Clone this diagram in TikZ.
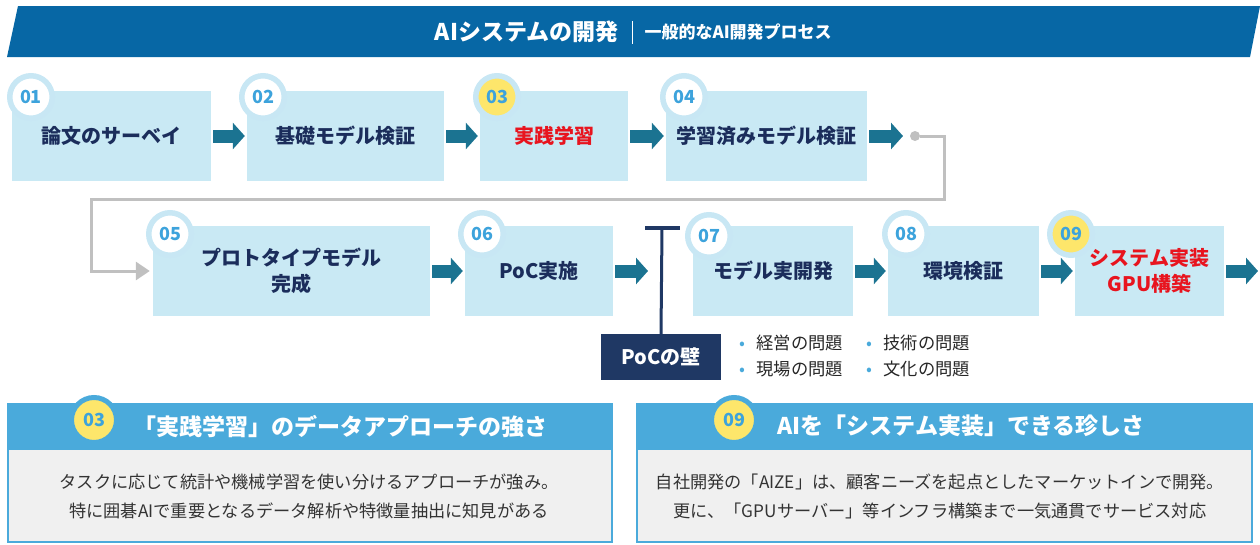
\documentclass[tikz,border=0pt]{standalone}
\usepackage{fontspec}
\setmainfont{Noto Sans CJK JP}
\usetikzlibrary{arrows.meta}
\definecolor{bannerblue}{HTML}{0767A5}
\definecolor{boxblue}{HTML}{C9E9F4}
\definecolor{navy}{HTML}{1B2D5B}
\definecolor{teal}{HTML}{1B7391}
\definecolor{ringblue}{HTML}{C8E7F4}
\definecolor{numblue}{HTML}{3DA3DC}
\definecolor{badgeyellow}{HTML}{FDE66B}
\definecolor{hired}{HTML}{E8141E}
\definecolor{connGray}{HTML}{C0C0C0}
\definecolor{pocnavy}{HTML}{1F3864}
\definecolor{headblue}{HTML}{4AAADB}
\definecolor{bodygray}{HTML}{F0F0F0}
\definecolor{bodytext}{HTML}{333333}
\begin{document}
\begin{tikzpicture}[x=1pt,y=-1pt,
  stepbox/.style={fill=boxblue, text=navy, font=\fontsize{20}{26}\selectfont\bfseries, align=center, inner sep=0pt, minimum height=90pt},
  redtext/.style={text=hired},
  badge/.style={circle, fill=white, draw=ringblue, line width=5.5pt, minimum size=42.5pt, inner sep=0pt, text=numblue, font=\fontsize{18}{18}\selectfont\bfseries},
  ybadge/.style={badge, fill=badgeyellow},
  flow/.style={draw=teal, line width=13pt, -{Triangle[length=12pt,width=26pt]}, shorten <=2pt, shorten >=2pt},
  grayconn/.style={draw=connGray, line width=3pt, -{Triangle[length=14pt,width=18pt]}, shorten >=3pt},
  bullettext/.style={anchor=west, text=black!85, font=\fontsize{17.3}{20}\selectfont},
  panelhead/.style={text=white, font=\fontsize{23}{26}\selectfont\bfseries},
  panelbody/.style={text=bodytext, align=center, font=\fontsize{17.2}{29}\selectfont}
]
\useasboundingbox (0,0) rectangle (1260,544);

% banner
\fill[bannerblue] (18,6) -- (1260,6) -- (1250,57) -- (7,57) -- cycle;
\node[anchor=east, text=white, font=\fontsize{23}{25}\selectfont\bfseries] (title) at (622,32) {AIシステムの開発};
\draw[white, line width=0.8pt] (632,21) -- (632,44);
\node[anchor=west, text=white, font=\fontsize{17}{19}\selectfont\bfseries] (subtitle) at (641,32) {一般的なAI開発プロセス};

% row 1
\node[stepbox, minimum width=199pt] (n1) at (111.5,136) {論文のサーベイ};
\node[stepbox, minimum width=197pt] (n2) at (345.5,136) {基礎モデル検証};
\node[stepbox, redtext, minimum width=148pt] (n3) at (554,136) {実践学習};
\node[stepbox, minimum width=201pt] (n4) at (766.5,136) {学習済みモデル検証};
\node[badge] (b1) at (31,97) {01};
\node[badge] (b2) at (263,97) {02};
\node[ybadge] (b3) at (497,97) {03};
\node[badge] (b4) at (684,97) {04};

\draw[flow] (n1) -- (n2);
\draw[flow] (n2) -- (n3);
\draw[flow] (n3) -- (n4);
\coordinate (e4) at (905,136);
\draw[flow] (n4) -- (e4);

% row 2
\node[stepbox, minimum width=277pt] (n5) at (291.5,271) {プロトタイプモデル\\完成};
\node[stepbox, minimum width=148pt] (n6) at (539,271) {PoC実施};
\node[stepbox, minimum width=160pt] (n7) at (773,271) {モデル実開発};
\node[stepbox, minimum width=151pt] (n8) at (963.5,271) {環境検証};
\node[stepbox, redtext, minimum width=149pt] (n9) at (1149.5,271) {システム実装\\GPU構築};
\node[badge] (b5) at (170,234) {05};
\node[badge] (b6) at (482,234) {06};
\node[badge] (b7) at (709,236) {07};
\node[badge] (b8) at (906,234) {08};
\node[ybadge] (b9) at (1071,234) {09};

\coordinate (e6) at (650,271);
\draw[flow] (n6) -- (e6);
\draw[flow] (n7) -- (n8);
\draw[flow] (n8) -- (n9);
\coordinate (e9) at (1260,271);
\draw[flow] (n9) -- (e9);
\draw[flow] (n5) -- (n6);

% gray return connector
\node[circle, fill=connGray, minimum size=10pt, inner sep=0pt] (dot) at (915,136) {};
\draw[grayconn] (dot) -- (944,136) |- (91,199) |- (n5.west);

% PoC wall
\node[fill=pocnavy, text=white, minimum width=120pt, minimum height=46pt, inner sep=0pt, font=\fontsize{20}{22}\selectfont\bfseries] (poc) at (661,357) {PoCの壁};
\coordinate (wall) at (662,228);
\draw[pocnavy, line width=4pt] (645,228) -- (680,228);
\draw[pocnavy, line width=3pt] (wall) -- (poc.north);

\node[bullettext] (p1) at (736,343) {{\color{headblue}•}\hspace{11pt}経営の問題};
\node[bullettext] (p2) at (863,343) {{\color{headblue}•}\hspace{11pt}技術の問題};
\node[bullettext] (p3) at (736,369) {{\color{headblue}•}\hspace{11pt}現場の問題};
\node[bullettext] (p4) at (863,369) {{\color{headblue}•}\hspace{11pt}文化の問題};

% bottom panels
\fill[bodygray] (8,404) rectangle (612,542);
\fill[headblue] (8,404) rectangle (612,450);
\draw[headblue, line width=2pt] (8,404) rectangle (612,542);
\fill[bodygray] (637,404) rectangle (1252,542);
\fill[headblue] (637,404) rectangle (1252,450);
\draw[headblue, line width=2pt] (637,404) rectangle (1252,542);

\node[ybadge, draw=headblue, line width=5pt, minimum size=45pt] (pb3) at (94,420) {03};
\node[ybadge, draw=headblue, line width=5pt, minimum size=45pt] (pb9) at (734,420) {09};
\node[panelhead] (h1) at (340,427) {「実践学習」のデータアプローチの強さ};
\node[panelhead] (h2) at (961,426) {AIを「システム実装」できる珍しさ};
\node[panelbody] (t1) at (309,496) {タスクに応じて統計や機械学習を使い分けるアプローチが強み。\\特に囲碁AIで重要となるデータ解析や特徴量抽出に知見がある};
\node[panelbody] (t2) at (940,496) {自社開発の「AIZE」は、顧客ニーズを起点としたマーケットインで開発。\\更に、「GPUサーバー」等インフラ構築まで一気通貫でサービス対応};
\end{tikzpicture}
\end{document}
